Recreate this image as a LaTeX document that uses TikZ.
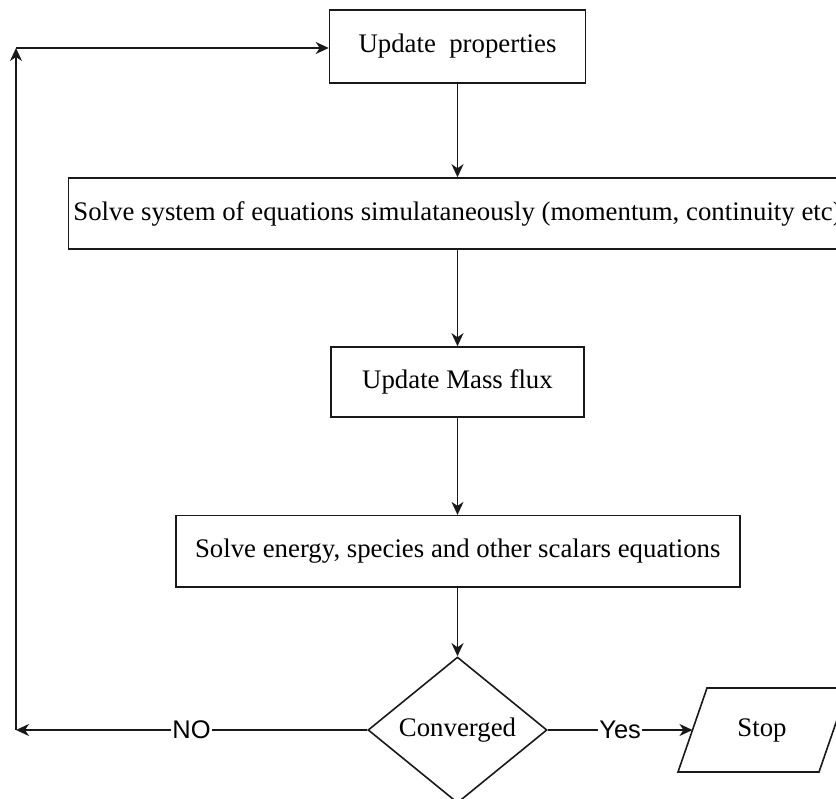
\documentclass[tikz,border=0pt]{standalone}
\usepackage{fontspec}
\setmainfont{Liberation Serif}
\newfontfamily\labelfont{Liberation Sans}
\usetikzlibrary{arrows.meta,shapes.geometric}

\begin{document}
\begin{tikzpicture}[x=1pt,y=-1pt,
  every node/.style={font=\fontsize{26.8}{31}\selectfont},
  procbox/.style={draw=black!90, line width=1.6pt, rectangle, inner sep=0pt},
  decision/.style={draw=black!90, line width=1.6pt, diamond, aspect=1.23, inner sep=0pt,
                   minimum width=179pt, minimum height=146pt},
  flow/.style={draw=black!90, line width=1.6pt, -{Stealth[length=13pt,width=12pt,inset=4pt]}},
  plain/.style={draw=black!90, line width=1.6pt},
  edgelabel/.style={fill=white, inner sep=1pt, font=\labelfont\fontsize{25.5}{30}\selectfont}
]
\useasboundingbox (0,0) rectangle (836,799);

% process steps
\node[procbox, minimum width=256pt, minimum height=73pt] (props) at (457.5,46.5) {Update~~properties};
\node[procbox, minimum width=778pt, minimum height=71pt] (system) at (457.5,213.5)
  {Solve system of equations simulataneously (momentum, continuity etc)};
\node[procbox, minimum width=253pt, minimum height=70pt] (mass) at (457.5,382) {Update Mass flux};
\node[procbox, minimum width=564pt, minimum height=71pt] (energy) at (457.8,551.2)
  {Solve energy, species and other scalars equations};

% convergence test
\node[decision] (conv) at (457.5,730) {Converged};

% terminal parallelogram
\draw[plain] (678,772) -- (819,772) -- (848,688) -- (707,688) -- cycle;
\node (stop) at (762,730) {Stop};
\coordinate (stopin) at (692.5,730);

% return path corners
\coordinate (loopbot) at (16,730);
\coordinate (looptop) at (16,48);

% main flow
\draw[flow] (props.south) -- (props.south |- system.north);
\draw[flow] (system.south -| mass.north) -- (mass.north);
\draw[flow] (mass.south) -- (mass.south |- energy.north);
\draw[flow] (energy.south -| conv.north) -- (conv.north);

% exits from the test
\draw[flow] (conv.east) -- node[edgelabel] {Yes} (stopin);
\draw[flow] (conv.west) -- node[edgelabel] {NO} (loopbot);
\draw[flow] (loopbot) -- (looptop);
\draw[flow] (looptop) -- (looptop -| props.west);
\end{tikzpicture}
\end{document}
